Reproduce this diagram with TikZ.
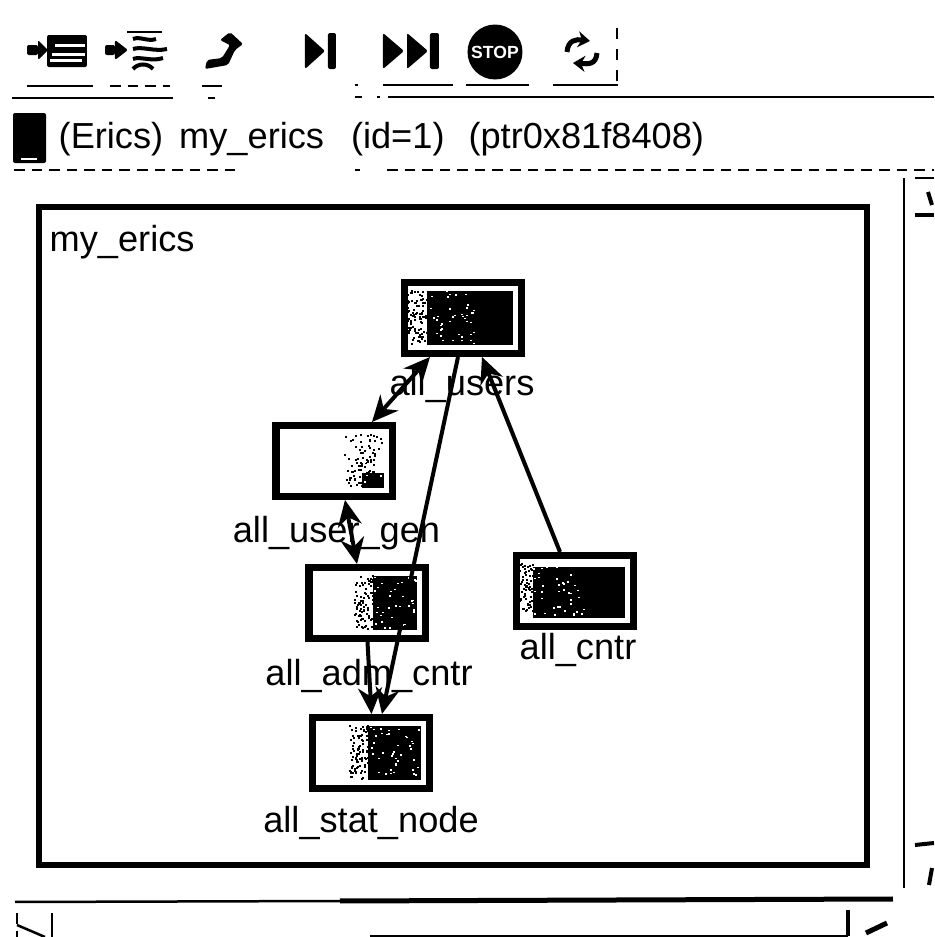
\documentclass[tikz,border=0pt]{standalone}
\usepackage{fontspec}
\setmainfont{Liberation Sans}
\usetikzlibrary{arrows.meta}
\tikzset{
    blockbox/.style={draw, line width=0.07cm, fill=white, minimum width=1.17cm, minimum height=0.71cm, inner sep=0pt},
    blockfill/.style n args={3}{path picture={
        \begin{scope}[shift={(path picture bounding box.center)}]
            \fill[black] (#1, -0.27) rectangle (0.5, #2);
            \foreach \i in {1,...,90} {
                \fill[black] (#1-0.2+rnd*0.2+rnd*#3, -0.27+rnd*0.53) rectangle ++(0.02, 0.02);
            }
            \foreach \i in {1,...,40} {
                \fill[white] (#1+rnd*0.5, -0.27+rnd*0.53) rectangle ++(0.02, 0.015);
            }
        \end{scope}
    }},
    blocktext/.style={font=\fontsize{10.3pt}{12pt}\selectfont, inner sep=0pt},
    link/.style={line width=0.04cm, -{Stealth[length=0.26cm,width=0.24cm]}},
    biglink/.style={line width=0.04cm, {Stealth[length=0.26cm,width=0.24cm]}-{Stealth[length=0.26cm,width=0.24cm]}},
    rule/.style={line width=0.025cm},
    thickrule/.style={line width=0.04cm},
    icon/.style={fill=black, draw=none, rounded corners=0.02cm}
}
\begin{document}
\begin{tikzpicture}
    \useasboundingbox (0, 0) rectangle (9.34, 9.37);
    \pgfmathsetseed{11}

    % toolbar
    \fill[icon] (0.27, 8.92) rectangle (0.38, 8.82);
    \fill[icon] (0.38, 8.97) -- (0.48, 8.87) -- (0.38, 8.77) -- cycle;
    \fill[icon] (0.47, 9.02) rectangle (0.87, 8.7);
    \fill[white] (0.55, 8.93) rectangle (0.85, 8.905);
    \fill[white] (0.52, 8.84) rectangle (0.85, 8.815);
    \fill[white] (0.5, 8.78) rectangle (0.82, 8.755);
    \fill[icon] (1.05, 8.92) rectangle (1.15, 8.82);
    \fill[icon] (1.15, 8.97) -- (1.28, 8.87) -- (1.15, 8.77) -- cycle;
    \draw[rule] (1.27, 9.05) -- (1.62, 9.05);
    \draw[thickrule] (1.33, 8.98) .. controls (1.4, 9.01) and (1.48, 8.95) .. (1.56, 8.98);
    \draw[thickrule] (1.33, 8.88) .. controls (1.42, 8.91) and (1.55, 8.85) .. (1.67, 8.88);
    \draw[thickrule] (1.33, 8.78) .. controls (1.4, 8.81) and (1.52, 8.75) .. (1.63, 8.79);
    \draw[thickrule] (1.33, 8.68) .. controls (1.38, 8.74) and (1.48, 8.74) .. (1.53, 8.68);
    \fill[icon] (2.05, 8.68) -- (2.07, 8.77) -- (2.22, 8.79) -- (2.3, 8.92) -- (2.2, 8.97) -- (2.3, 9.05) -- (2.43, 8.93) -- (2.35, 8.87) -- (2.28, 8.72) -- cycle;
    \fill[icon] (3.05, 9.04) -- (3.25, 8.86) -- (3.05, 8.68) -- cycle;
    \fill[icon] (3.28, 9.04) rectangle (3.36, 8.68);
    \fill[icon] (3.83, 9.04) -- (4.04, 8.86) -- (3.83, 8.68) -- cycle;
    \fill[icon] (4.07, 9.04) -- (4.28, 8.86) -- (4.07, 8.68) -- cycle;
    \fill[icon] (4.3, 9.04) rectangle (4.39, 8.68);
    \node[circle, fill=black, minimum size=0.55cm, inner sep=0pt, text=white, font=\bfseries\fontsize{5pt}{6pt}\selectfont] (stop) at (4.95, 8.85) {STOP};
    \draw[line width=0.05cm, -{Stealth[length=0.12cm,width=0.16cm]}] (5.67, 8.85) .. controls (5.68, 8.97) and (5.76, 8.98) .. (5.9, 8.96);
    \draw[line width=0.05cm, -{Stealth[length=0.12cm,width=0.16cm]}] (5.97, 8.84) .. controls (5.96, 8.72) and (5.88, 8.73) .. (5.73, 8.74);

    % broken lines round the toolbar
    \draw[rule, dashed] (6.17, 9.09) -- (6.17, 8.52);
    \draw[rule] (0.27, 8.51) -- (0.93, 8.51);
    \draw[rule, densely dashed] (1.1, 8.51) -- (1.7, 8.51);
    \draw[rule] (2.02, 8.51) -- (2.22, 8.51);
    \draw[rule] (3.55, 8.52) -- (3.58, 8.52);
    \draw[rule] (3.83, 8.52) -- (4.53, 8.52);
    \draw[rule] (4.66, 8.52) -- (5.29, 8.52);
    \draw[rule] (5.53, 8.52) -- (6.18, 8.52);
    \draw[rule] (0.12, 8.39) -- (1.73, 8.39);
    \draw[rule] (2.08, 8.39) -- (2.15, 8.39);
    \draw[rule] (3.55, 8.4) -- (3.62, 8.4);
    \draw[rule] (3.77, 8.4) -- (3.8, 8.4);
    \draw[rule] (3.88, 8.4) -- (9.34, 8.4);

    % header
    \fill[icon] (0.13, 8.24) rectangle (0.46, 7.74);
    \fill[white] (0.21, 7.79) rectangle (0.37, 7.775);
    \node[blocktext, anchor=base west] (title) at (0.58, 7.89) {(Erics)\hspace{0.16cm}my\_erics\hspace{0.27cm}(id=1)\hspace{0.24cm}(ptr0x81f8408)};
    \draw[rule, densely dashed] (0.14, 7.67) -- (2.4, 7.67);
    \draw[rule] (3.55, 7.67) -- (3.6, 7.67);
    \draw[rule, densely dashed] (3.87, 7.67) -- (9.34, 7.67);

    % main frame
    \node[draw, line width=0.065cm, minimum width=8.28cm, minimum height=6.58cm, inner sep=0pt] (frame) at (4.53, 4.01) {};
    \node[blocktext, anchor=base west] (framename) at (0.49, 6.85) {my\_erics};

    % blocks
    \node[blockbox, blockfill={-0.36}{0.27}{0}] (users) at (4.63, 6.19) {};
    \node[blockbox, blockfill={0.28}{-0.12}{0.22}] (usergen) at (3.345, 4.76) {};
    \node[blockbox, blockfill={0.06}{0.27}{0}] (admcntr) at (3.675, 3.34) {};
    \node[blockbox, blockfill={-0.42}{0.24}{0}] (cntr) at (5.75, 3.46) {};
    \node[blockbox, blockfill={-0.03}{0.27}{0}] (statnode) at (3.715, 1.84) {};

    \node[blocktext] (userslabel) at (4.62, 5.51) {all\_users};
    \node[blocktext] (usergenlabel) at (3.365, 4.04) {all\_user\_gen};
    \node[blocktext] (admcntrlabel) at (3.69, 2.61) {all\_adm\_cntr};
    \node[blocktext] (cntrlabel) at (5.78, 2.87) {all\_cntr};
    \node[blocktext] (statnodelabel) at (3.71, 1.14) {all\_stat\_node};

    \draw[biglink] ([xshift=-0.33cm]users.south) -- ([xshift=0.375cm]usergen.north);
    \draw[biglink] ([xshift=0.105cm]usergen.south) -- ([xshift=-0.105cm]admcntr.north);
    \draw[link] ([xshift=-0.05cm]users.south) -- ([xshift=0.105cm]statnode.north);
    \draw[link] (admcntr.south) -- (statnode.north);
    \draw[link] ([xshift=-0.15cm]cntr.north) -- ([xshift=0.19cm]users.south);

    % right panel
    \draw[rule] (9.04, 7.59) -- (9.04, 0.49);
    \draw[rule] (9.15, 7.59) -- (9.34, 7.59);
    \draw[thickrule] (9.28, 7.45) -- (9.32, 7.32);
    \draw[thickrule] (9.15, 7.22) -- (9.34, 7.22);
    \draw[thickrule] (9.15, 0.92) -- (9.34, 0.94);
    \draw[thickrule] (9.29, 0.52) -- (9.32, 0.69);

    % bottom panel
    \draw[rule] (0.15, 0.35) -- (3.4, 0.36);
    \draw[line width=0.05cm] (3.4, 0.36) -- (8.93, 0.38);
    \draw[rule, densely dashed] (0.17, 0.24) -- (0.17, 0);
    \draw[rule] (0.52, 0.24) -- (0.52, 0);
    \draw[rule] (0.17, 0.12) -- (0.45, 0);
    \draw[thickrule] (8.48, 0.27) -- (8.48, 0.01);
    \draw[rule] (3.7, 0.01) -- (8.48, 0.01);
    \draw[line width=0.05cm] (8.66, 0.04) -- (8.87, 0.14);
\end{tikzpicture}
\end{document}
